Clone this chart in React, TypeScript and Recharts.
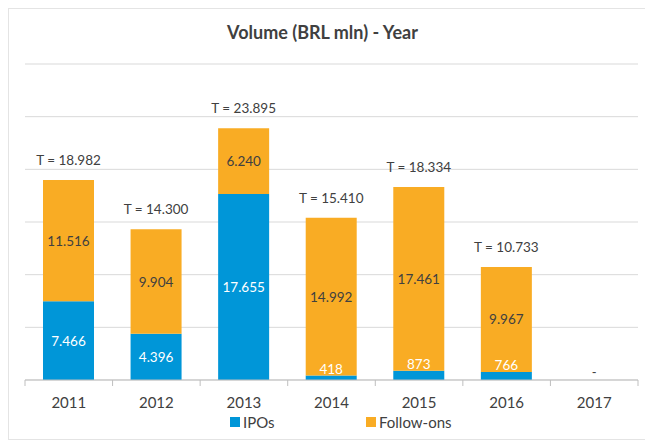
import { BarChart, Bar, XAxis, YAxis, CartesianGrid, LabelList } from "recharts";

const years = ["2011", "2012", "2013", "2014", "2015", "2016", "2017"];
const ipos = [7466, 4396, 17655, 418, 873, 766, 0];
const followOns = [11516, 9904, 6240, 14992, 17461, 9967, 0];
const totals = [18982, 14300, 23895, 15410, 18334, 10733, 0];
const yTicks = [0, 5000, 10000, 15000, 20000, 25000, 30000];

const BLUE = "#0096d8";
const ORANGE = "#f9ac24";
const TEXT = "#404040";
const FONT = "Lato, 'Open Sans', sans-serif";

const W = 645;
const H = 443;
const X_AXIS_H = 30;
const M = { top: 64, right: 7, left: 25, bottom: 63 - X_AXIS_H };
const AXIS_Y = H - 63;
const BAND = (W - M.left - M.right) / years.length;

const data = years.map((year, i) => ({
  year,
  ipos: ipos[i],
  followOns: followOns[i],
  total: totals[i],
}));

const fmt = (n: number) => String(n).replace(/\B(?=(\d{3})+(?!\d))/g, ".");

const IpoLabel = (props: any) => {
  const { x, y, width, height, value } = props;
  if (!value) return null;
  const cy = height < 18 ? y - 7 : y + height / 2;
  return (
    <text x={x + width / 2} y={cy} fill="#ffffff" fontSize={13.5} fontFamily={FONT}
      textAnchor="middle" dominantBaseline="central">
      {fmt(value)}
    </text>
  );
};

const FollowLabel = (props: any) => {
  const { x, y, width, height, value } = props;
  if (!value) return null;
  return (
    <text x={x + width / 2} y={y + height / 2} fill={TEXT} fontSize={13.5} fontFamily={FONT}
      textAnchor="middle" dominantBaseline="central">
      {fmt(value)}
    </text>
  );
};

const TotalLabel = (props: any) => {
  const { x, y, width, index } = props;
  const t = totals[index];
  if (!t) return null;
  return (
    <text x={x + width / 2} y={y - 20} fill={TEXT} fontSize={13.5} fontFamily={FONT}
      textAnchor="middle" dominantBaseline="central">
      {`T = ${fmt(t)}`}
    </text>
  );
};

const YearTick = (props: any) => {
  const { x, payload, index } = props;
  return (
    <g>
      <line x1={x - BAND / 2} x2={x - BAND / 2} y1={AXIS_Y} y2={AXIS_Y + 6} stroke="#bfbfbf" />
      {index === years.length - 1 && (
        <line x1={x + BAND / 2} x2={x + BAND / 2} y1={AXIS_Y} y2={AXIS_Y + 6} stroke="#bfbfbf" />
      )}
      {!totals[index] && (
        <text x={x} y={AXIS_Y - 8} fill={TEXT} fontSize={13} fontFamily={FONT}
          textAnchor="middle" dominantBaseline="central">
          -
        </text>
      )}
      <text x={x} y={AXIS_Y + 22} fill={TEXT} fontSize={15} fontFamily={FONT}
        textAnchor="middle" dominantBaseline="central">
        {payload.value}
      </text>
    </g>
  );
};

const legendItem = (left: number, color: string, label: string) => (
  <span style={{ position: "absolute", left, top: 0, display: "flex", alignItems: "center" }}>
    <span style={{ width: 10, height: 10, background: color, marginRight: 3 }} />
    {label}
  </span>
);

export default function App() {
  return (
    <div style={{ position: "absolute", left: 0, top: 0, width: W, height: H, background: "#fff" }}>
      <div style={{ position: "absolute", left: 8, top: 8, width: W, height: 430, border: "1px solid #e4e4e4" }} />
      <div style={{ position: "absolute", left: 0, top: 21, width: W, textAlign: "center", fontFamily: FONT,
        fontSize: 18, fontWeight: 700, color: TEXT }}>
        Volume (BRL mln) - Year
      </div>
      <div style={{ position: "absolute", left: 0, top: 0 }}>
        <BarChart width={W} height={H} data={data} margin={M} barSize={51}>
          <CartesianGrid vertical={false} stroke="#d9d9d9" />
          <XAxis dataKey="year" height={X_AXIS_H} axisLine={{ stroke: "#bfbfbf" }} tickLine={false}
            tick={<YearTick />} interval={0} />
          <YAxis hide domain={[0, 30000]} ticks={yTicks} />
          <Bar dataKey="ipos" stackId="a" fill={BLUE} isAnimationActive={false}>
            <LabelList dataKey="ipos" content={<IpoLabel />} />
          </Bar>
          <Bar dataKey="followOns" stackId="a" fill={ORANGE} isAnimationActive={false}>
            <LabelList dataKey="followOns" content={<FollowLabel />} />
            <LabelList dataKey="total" content={<TotalLabel />} />
          </Bar>
        </BarChart>
      </div>
      <div style={{ position: "absolute", left: 0, top: 413, width: W, height: 18,
        fontFamily: FONT, fontSize: 15, color: TEXT, lineHeight: "18px" }}>
        {legendItem(230, BLUE, "IPOs")}
        {legendItem(366, ORANGE, "Follow-ons")}
      </div>
    </div>
  );
}
